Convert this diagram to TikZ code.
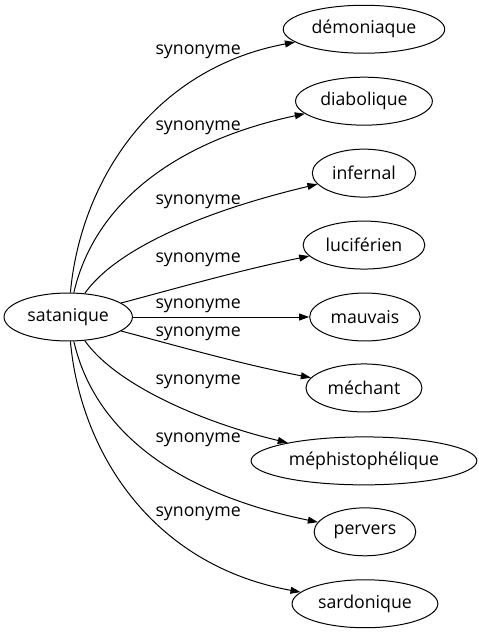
\documentclass[tikz,border=0pt]{standalone}
\usepackage{fontspec}
\setmainfont{Open Sans}
\usetikzlibrary{arrows.meta}
\usetikzlibrary{shapes.geometric}

\begin{document}
\begin{tikzpicture}[x = 0.75pt, y = -0.75pt,
    word/.style = {draw, ellipse, line width = 0.75pt, minimum height = 36pt, inner xsep = 3.5pt, inner ysep = 0pt, font = \fontsize{13.3}{16}\selectfont},
    syn/.style = {font = \fontsize{13.3}{16}\selectfont},
    link/.style = {line width = 0.75pt, -{Triangle[length = 7.5pt, width = 5.2pt]}}]
    \draw [white, opacity = 0] (0, 0) rectangle (478, 635);
    \node [word] (sat) at (68, 317) {satanique};
    \node [word] (dem) at (364, 29) {démoniaque};
    \node [word] (dia) at (364, 101) {diabolique};
    \node [word] (inf) at (364, 173) {infernal};
    \node [word] (luc) at (364, 245) {luciférien};
    \node [word] (mau) at (365, 317) {mauvais};
    \node [word] (mec) at (364, 388) {méchant};
    \node [word] (mep) at (364, 461) {méphistophélique};
    \node [word] (per) at (365, 532) {pervers};
    \node [word] (sar) at (365, 604) {sardonique};
    \node [syn] (s1) at (198, 52) {synonyme};
    \node [syn] (s2) at (198, 128) {synonyme};
    \node [syn] (s3) at (198, 202) {synonyme};
    \node [syn] (s4) at (198, 260) {synonyme};
    \node [syn] (s5) at (198, 306) {synonyme};
    \node [syn] (s6) at (198, 334) {synonyme};
    \node [syn] (s7) at (198, 382) {synonyme};
    \node [syn] (s8) at (198, 440) {synonyme};
    \node [syn] (s9) at (198, 514) {synonyme};
    \draw [link] (sat) .. controls (80, 184) and (150, 69) .. (dem);
    \draw [link] (sat) .. controls (95, 200) and (180, 140) .. (dia);
    \draw [link] (sat) .. controls (115, 250) and (200, 212) .. (inf);
    \draw [link] (sat) .. controls (170, 290) and (240, 270) .. (luc);
    \draw [link] (sat) -- (mau);
    \draw [link] (sat) .. controls (170, 344) and (240, 364) .. (mec);
    \draw [link] (sat) .. controls (115, 384) and (200, 422) .. (mep);
    \draw [link] (sat) .. controls (95, 434) and (180, 494) .. (per);
    \draw [link] (sat) .. controls (80, 450) and (150, 565) .. (sar);
\end{tikzpicture}
\end{document}
